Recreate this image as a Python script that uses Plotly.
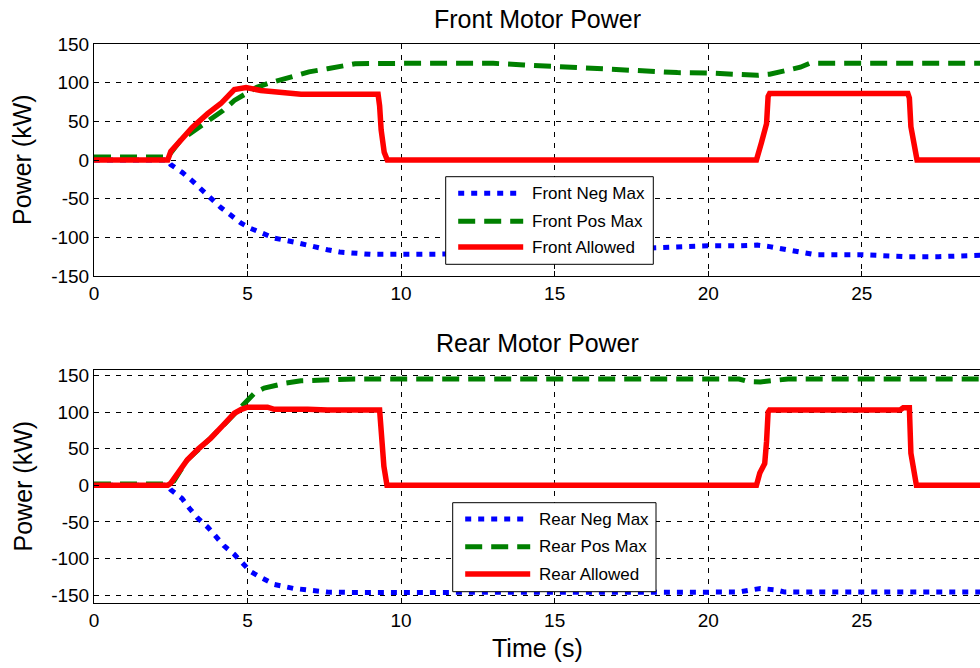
import plotly.graph_objects as go

# ---------------- data ----------------
front_neg_t = [0, 2.4, 2.5, 2.87, 3.2, 3.48, 3.8, 4.13, 4.46, 4.78, 5.1, 5.43, 5.87, 6.5, 7.17, 7.6, 8.0, 8.5, 9,
               10, 12, 13, 14, 15, 16, 17, 17.9, 19, 20, 21, 21.6, 22, 22.5, 23, 23.5, 25, 25.8, 26.5, 27.5, 28, 28.5, 29]
front_neg_v = [0, 0, -6, -16, -27, -38, -50, -61.5, -71.5, -81.5, -88.5, -94.5, -101, -106, -113, -116, -119, -121, -122,
               -122, -122, -122, -121, -120, -118.5, -116.5, -114, -112, -111, -111, -110, -112, -116, -120, -122.5, -122.5,
               -124.5, -125, -125, -124.5, -123, -123]

front_pos_t = [0, 2.4, 2.83, 3.3, 3.8, 4.2, 4.57, 5.0, 5.3, 5.65, 6.1, 6.5, 7.0, 7.6, 8.0, 8.5, 10, 12, 13, 14, 15,
               16, 17, 17.9, 19, 20, 21, 21.6, 22, 22.5, 23, 23.3, 25, 29]
front_pos_v = [4, 4, 26, 39, 51.7, 64, 77, 88, 94, 98.7, 104, 109, 114, 118, 121, 124.5, 125, 125, 125, 123, 121,
               119.5, 117.5, 115, 113, 112.5, 110, 109.5, 111, 116, 120, 125, 125, 125]

front_allow_t = [0, 2.4, 2.5, 2.83, 3.2, 3.7, 4.13, 4.57, 4.75, 4.95, 5.43, 6.2, 6.74, 9.25, 9.3, 9.35, 9.45, 9.55,
                 21.57, 21.73, 21.9, 21.95, 22.0, 26.5, 26.55, 26.6, 26.7, 26.8, 29]
front_allow_v = [0, 0, 11, 26, 42, 60, 73, 91, 93, 93.6, 90, 87, 85, 85, 70, 39, 10, 0,
                 0, 22, 47, 82, 86, 86, 80, 43, 18, 0, 0]

rear_neg_t = [0, 2.4, 2.5, 2.87, 3.1, 3.37, 3.7, 3.97, 4.24, 4.57, 4.84, 5.1, 5.43, 5.87, 6.5, 7.17, 7.6, 8.5,
              21.0, 21.4, 21.7, 22.2, 22.5, 29]
rear_neg_v = [0, 0, -6, -18, -31, -44.5, -57, -70, -83, -94.5, -107, -118, -126, -135.5, -141, -144.5, -146, -146.5,
              -146, -143, -141, -143, -146, -146]

rear_pos_t = [0, 2.4, 2.6, 3.04, 3.8, 4.57, 5.0, 5.25, 5.54, 6.2, 6.74, 7.6, 8.5, 21.0, 21.3, 21.7, 22.2, 22.6, 29]
rear_pos_v = [2, 2, 6, 35, 64.5, 98.6, 117, 127, 133, 139.5, 143, 145, 145.5, 145.5, 142, 141.5, 143, 145.5, 145.5]

rear_allow_t = [0, 2.4, 2.5, 3.04, 3.4, 3.8, 4.2, 4.57, 4.8, 5.0, 5.65, 5.87, 6.96, 7.6, 9.3, 9.38, 9.44, 9.54,
                21.57, 21.68, 21.84, 21.9, 21.95, 22.0, 26.25, 26.35, 26.55, 26.6, 26.7, 26.78, 29]
rear_allow_v = [0, 0, 3, 35, 50, 64.5, 82, 98.6, 104, 107, 107, 104, 104, 103, 103, 53, 26, 0,
                0, 17, 30, 60, 100, 103, 103, 106, 106, 44, 17, 0, 0]

x_ticks = [0, 5, 10, 15, 20, 25, 30]
x_tick_labels = ["0", "5", "10", "15", "20", "25", "30"]
y_ticks = [-150, -100, -50, 0, 50, 100, 150]
y_tick_labels = ["-150", "-100", "-50", "0", "50", "100", "150"]

front_names = ["Front Neg Max", "Front Pos Max", "Front Allowed"]
rear_names = ["Rear Neg Max", "Rear Pos Max", "Rear Allowed"]
titles = ["Front Motor Power", "Rear Motor Power"]
y_title = "Power (kW)"
x_title = "Time (s)"

# ---------------- styling ----------------
W, H = 980, 668
FONT = "Liberation Sans, Arial, Helvetica, sans-serif"
BLUE, GREEN, RED = "#0000ff", "#008000", "#ff0000"
styles = [
    dict(color=BLUE, width=5, dash="6px,7px"),
    dict(color=GREEN, width=5, dash="17px,9px"),
    dict(color=RED, width=5.5, dash="solid"),
]


def px(x):
    return x / W


def py(y):
    return 1 - y / H


fig = go.Figure()

series = [
    [(front_neg_t, front_neg_v), (front_pos_t, front_pos_v), (front_allow_t, front_allow_v)],
    [(rear_neg_t, rear_neg_v), (rear_pos_t, rear_pos_v), (rear_allow_t, rear_allow_v)],
]
names = [front_names, rear_names]
axes = [("x", "y"), ("x2", "y2")]

for i in range(2):
    for j, (t, v) in enumerate(series[i]):
        fig.add_trace(go.Scatter(x=t, y=v, mode="lines", name=names[i][j],
                                 line=dict(**styles[j]), xaxis=axes[i][0], yaxis=axes[i][1],
                                 showlegend=False, hoverinfo="skip"))

axis_common = dict(
    showline=True, linecolor="black", linewidth=1,
    ticks="inside", ticklen=5, tickwidth=1, tickcolor="black",
    showgrid=True, gridcolor="black", gridwidth=1, griddash="5px,6px",
    zeroline=False, automargin=False,
    tickfont=dict(family=FONT, size=19, color="black"),
)

x_domain = [px(94), 1.0]
top_dom = [py(276), py(44)]
bot_dom = [py(602.7), py(370)]

xa = dict(domain=x_domain, range=[0, 28.85], tickvals=x_ticks, ticktext=x_tick_labels, mirror="ticks", **axis_common)
ya = dict(tickvals=y_ticks, ticktext=y_tick_labels, mirror=False, **axis_common)

fig.update_layout(
    width=W, height=H, autosize=False,
    margin=dict(l=0, r=0, t=0, b=0, pad=0, autoexpand=False),
    paper_bgcolor="white", plot_bgcolor="white",
    showlegend=False,
    xaxis=dict(anchor="y", **xa),
    yaxis=dict(domain=top_dom, range=[-150, 150], anchor="x", **ya),
    xaxis2=dict(anchor="y2", **xa),
    yaxis2=dict(domain=bot_dom, range=[-160.5, 157.8], anchor="x2", **ya),
)

annotations = []
# titles
for txt, yc in zip(titles, [19, 343]):
    annotations.append(dict(text=txt, x=px(537), y=py(yc), xref="paper", yref="paper",
                            showarrow=False, xanchor="center", yanchor="middle",
                            font=dict(family=FONT, size=25, color="black")))
# y titles
for yc in [160, 486.5]:
    annotations.append(dict(text=y_title, x=px(22), y=py(yc), xref="paper", yref="paper",
                            showarrow=False, xanchor="center", yanchor="middle", textangle=-90,
                            font=dict(family=FONT, size=25, color="black")))
# x title
annotations.append(dict(text=x_title, x=px(537), y=py(648), xref="paper", yref="paper",
                        showarrow=False, xanchor="center", yanchor="middle",
                        font=dict(family=FONT, size=25, color="black")))

shapes = []
# custom legends (MATLAB-style long samples)
legend_boxes = [
    dict(x0=445.7, x1=653.3, y0=176.7, y1=264.3, rows=[193.3, 221.3, 247.0], names=front_names),
    dict(x0=452.7, x1=656.0, y0=502.7, y1=591.7, rows=[519.0, 546.7, 574.0], names=rear_names),
]
for lb in legend_boxes:
    shapes.append(dict(type="rect", xref="paper", yref="paper",
                       x0=px(lb["x0"]), x1=px(lb["x1"]), y0=py(lb["y1"]), y1=py(lb["y0"]),
                       line=dict(color="black", width=1), fillcolor="white", layer="above"))
    for j, ry in enumerate(lb["rows"]):
        st = styles[j]
        shapes.append(dict(type="line", xref="paper", yref="paper",
                           x0=px(lb["x0"] + 12.5), x1=px(lb["x0"] + 77.5), y0=py(ry), y1=py(ry),
                           line=dict(color=st["color"], width=st["width"], dash=st["dash"]), layer="above"))
        annotations.append(dict(text=lb["names"][j], x=px(lb["x0"] + 84.5), y=py(ry), xref="paper", yref="paper",
                                showarrow=False, xanchor="left", yanchor="middle",
                                font=dict(family=FONT, size=17, color="black")))

fig.update_layout(annotations=annotations, shapes=shapes)

fig.write_html("out.html", config={"responsive": False})
